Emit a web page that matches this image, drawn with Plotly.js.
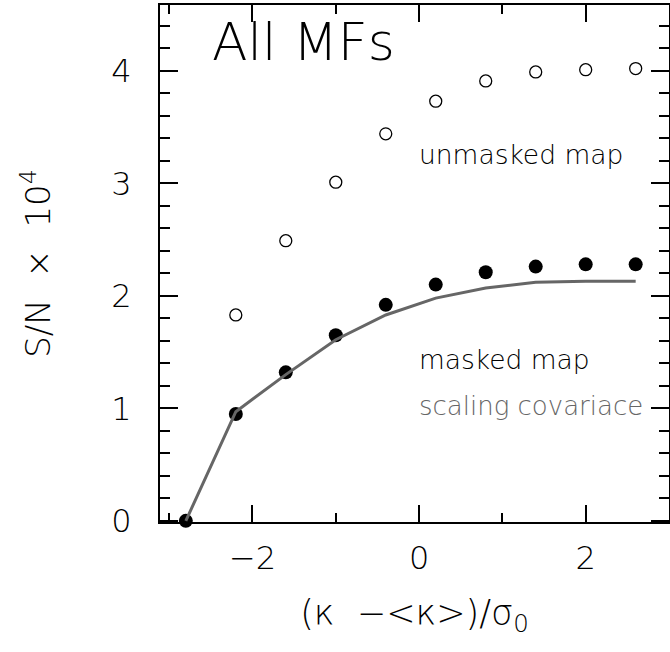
<!DOCTYPE html>
<html><head><script src="https://cdn.plot.ly/plotly-3.0.1.min.js"></script></head>
<body style="margin:0;background:#fff">
<div id="g" style="width:670px;height:652px"></div>
<script>
// data
var kappa = [-2.8, -2.2, -1.6, -1.0, -0.4, 0.2, 0.8, 1.4, 2.0, 2.6];
var kappaUnmasked = [-2.2, -1.6, -1.0, -0.4, 0.2, 0.8, 1.4, 2.0, 2.6];
var unmasked = [1.83, 2.49, 3.01, 3.44, 3.73, 3.91, 3.99, 4.01, 4.02];
var masked = [0, 0.95, 1.32, 1.65, 1.92, 2.10, 2.21, 2.26, 2.28, 2.28];
var scalingCov = [0, 0.97, 1.30, 1.61, 1.83, 1.98, 2.07, 2.12, 2.13, 2.13];
var xTicks = [-2, 0, 2];
var xTickText = ['\u22122', '0', '2'];
var yTicks = [0, 1, 2, 3, 4];

var FONT = 'DejaVu Sans';
var W = 200;

var traces = [
  {x: kappaUnmasked, y: unmasked, mode: 'markers', type: 'scatter', name: 'unmasked map', cliponaxis: false,
   marker: {symbol: 'circle-open', size: 12, color: '#000', line: {width: 1.3, color: '#000'}}},
  {x: kappa, y: masked, mode: 'markers', type: 'scatter', name: 'masked map', cliponaxis: false,
   marker: {symbol: 'circle', size: 14, color: '#000'}},
  {x: kappa, y: scalingCov, mode: 'lines', type: 'scatter', name: 'scaling covariace', cliponaxis: false,
   line: {color: '#666666', width: 3}}
];

var axisCommon = {
  showgrid: false, zeroline: false, showline: true, linewidth: 2, linecolor: '#000',
  mirror: 'ticks', ticks: 'inside', tickwidth: 2, tickcolor: '#000',
  tickfont: {family: FONT, weight: W, size: 32, color: '#000'}
};

var layout = {
  width: 670, height: 652,
  margin: {l: 160, r: 1, t: 5, b: 130},
  paper_bgcolor: '#fff', plot_bgcolor: '#fff',
  font: {family: FONT, weight: W, size: 26, color: '#000'},
  showlegend: false,
  xaxis: Object.assign({}, axisCommon, {
    range: [-3.11, 3.0], tickvals: xTicks, ticktext: xTickText, ticklen: 17,
    ticklabelstandoff: 7,
    minor: {dtick: 1, tick0: 0, ticks: 'inside', ticklen: 9, tickwidth: 2, tickcolor: '#000'},
    title: {text: '(\u03BA&nbsp; \u2212&lt;\u03BA&gt;)/\u03C3<sub>0</sub>', standoff: 24,
            font: {family: FONT, weight: W, size: 35, color: '#000'}}
  }),
  yaxis: Object.assign({}, axisCommon, {
    range: [-0.01, 4.585], tickvals: yTicks, ticklen: 18,
    ticklabelstandoff: 20,
    minor: {dtick: 0.2, tick0: 0, ticks: 'inside', ticklen: 10, tickwidth: 2, tickcolor: '#000'},
    title: {text: 'S/N&nbsp; \u00D7&nbsp; 10<sup>4</sup>', standoff: 50,
            font: {family: FONT, weight: W, size: 34, color: '#000'}}
  }),
  annotations: [
    {x: -2.515, y: 4.26, xref: 'x', yref: 'y', xanchor: 'left', yanchor: 'middle', showarrow: false,
     text: 'All MFs', font: {family: FONT, weight: W, size: 52, color: '#000'}},
    {x: -0.03, y: 3.26, xref: 'x', yref: 'y', xanchor: 'left', yanchor: 'middle', showarrow: false,
     text: 'unmasked map', font: {family: FONT, weight: W, size: 26.5, color: '#000'}},
    {x: -0.03, y: 1.43, xref: 'x', yref: 'y', xanchor: 'left', yanchor: 'middle', showarrow: false,
     text: 'masked map', font: {family: FONT, weight: W, size: 26.5, color: '#000'}},
    {x: -0.03, y: 1.02, xref: 'x', yref: 'y', xanchor: 'left', yanchor: 'middle', showarrow: false,
     text: 'scaling covariace', font: {family: FONT, weight: W, size: 26, color: '#666666'}}
  ]
};

Plotly.newPlot('g', traces, layout, {displayModeBar: false});
</script></body></html>
